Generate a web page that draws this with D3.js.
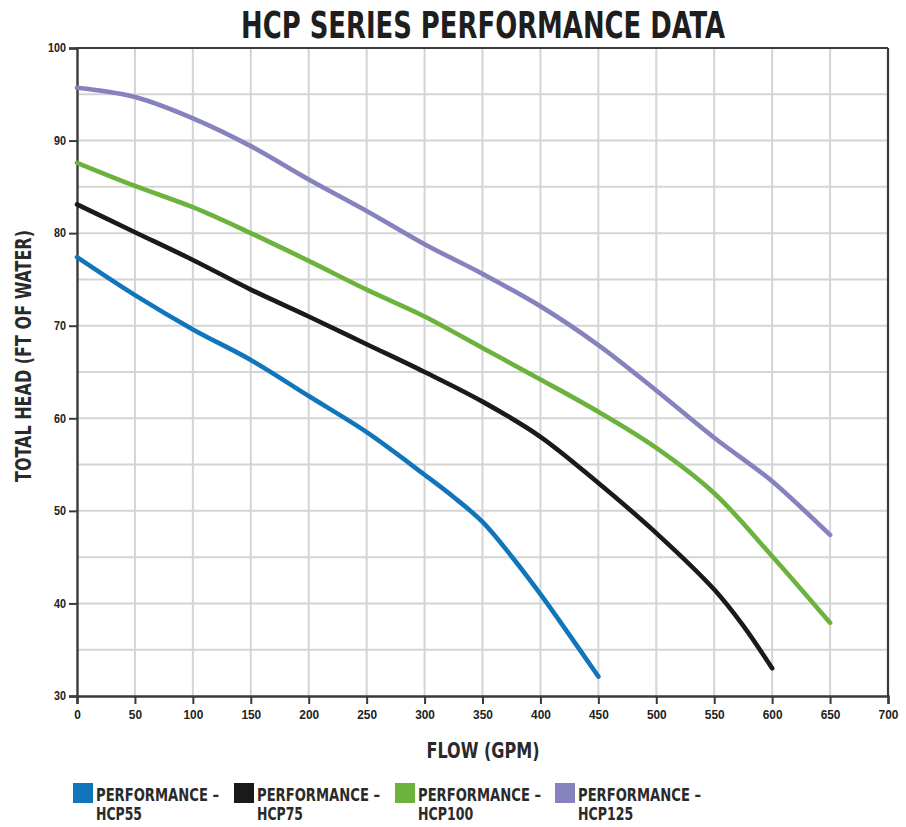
<!DOCTYPE html>
<html>
<head>
<meta charset="utf-8">
<script src="https://cdn.jsdelivr.net/npm/d3@7"></script>
<style>
  html, body { margin: 0; padding: 0; background: #fff; }
  svg { display: block; }
  text { font-family: "Liberation Sans Narrow", "Arial Narrow", "DejaVu Sans Condensed", sans-serif; }
</style>
</head>
<body>
<svg id="chart" width="906" height="827"></svg>
<script>
// ---- data ----
const seriesNames = ["HCP55", "HCP75", "HCP100", "HCP125"];
const seriesColors = ["#1175bb", "#1a1a1a", "#6cb33e", "#8582bd"];

const flowHCP55 = [0, 50, 100, 150, 200, 250, 300, 325, 350, 375, 400, 425, 450];
const headHCP55 = [77.4, 73.3, 69.6, 66.3, 62.4, 58.5, 53.9, 51.5, 48.8, 45.1, 41.0, 36.6, 32.1];

const flowHCP75 = [0, 50, 100, 150, 200, 250, 300, 350, 400, 450, 500, 550, 575, 600];
const headHCP75 = [83.1, 80.1, 77.1, 73.9, 71.0, 68.0, 65.0, 61.8, 58.0, 53.0, 47.6, 41.5, 37.6, 33.0];

const flowHCP100 = [0, 50, 100, 150, 200, 250, 300, 350, 400, 450, 500, 550, 600, 650];
const headHCP100 = [87.6, 85.1, 82.8, 80.0, 77.0, 73.9, 71.0, 67.6, 64.2, 60.7, 56.8, 51.9, 45.1, 37.9];

const flowHCP125 = [0, 50, 100, 150, 200, 250, 300, 350, 400, 450, 500, 550, 600, 650];
const headHCP125 = [95.7, 94.7, 92.4, 89.4, 85.8, 82.4, 78.8, 75.6, 72.1, 67.9, 63.0, 57.9, 53.2, 47.4];

const xTicks = [0, 50, 100, 150, 200, 250, 300, 350, 400, 450, 500, 550, 600, 650, 700];
const yTicks = [30, 40, 50, 60, 70, 80, 90, 100];
const yGrid = [35, 40, 45, 50, 55, 60, 65, 70, 75, 80, 85, 90, 95];

const titleText = "HCP SERIES PERFORMANCE DATA";
const xTitle = "FLOW (GPM)";
const yTitle = "TOTAL HEAD (FT OF WATER)";
const legendPrefix = "PERFORMANCE –";

// ---- build ----
const flows = [flowHCP55, flowHCP75, flowHCP100, flowHCP125];
const heads = [headHCP55, headHCP75, headHCP100, headHCP125];
const series = seriesNames.map((n, i) => ({
  name: n, color: seriesColors[i],
  points: flows[i].map((f, j) => ({ flow: f, head: heads[i][j] }))
}));

const svg = d3.select("#chart");
const L = 77, R = 888, T = 48, B = 696;

const x = d3.scaleLinear().domain([0, 700]).range([L, R]);
const y = d3.scaleLinear().domain([30, 100]).range([B, T]);

// gridlines
const grid = svg.append("g");
grid.selectAll("line.v").data(xTicks.slice(1, -1)).join("line")
  .attr("x1", d => x(d)).attr("x2", d => x(d))
  .attr("y1", T).attr("y2", B)
  .attr("stroke", "#d4d4d4").attr("stroke-width", 2);
grid.selectAll("line.h").data(yGrid).join("line")
  .attr("x1", L).attr("x2", R)
  .attr("y1", d => y(d)).attr("y2", d => y(d))
  .attr("stroke", "#d4d4d4").attr("stroke-width", 2);

// frame top/right
svg.append("line").attr("x1", L).attr("x2", R).attr("y1", T).attr("y2", T)
  .attr("stroke", "#3a3a3a").attr("stroke-width", 2.2);
svg.append("line").attr("x1", R).attr("x2", R).attr("y1", T).attr("y2", B)
  .attr("stroke", "#3a3a3a").attr("stroke-width", 2.2);

// axes
const xAxis = svg.append("g").attr("transform", `translate(0,${B})`)
  .call(d3.axisBottom(x).tickValues(xTicks).tickSize(8).tickPadding(6).tickFormat(d3.format("d")));
const yAxis = svg.append("g").attr("transform", `translate(${L},0)`)
  .call(d3.axisLeft(y).tickValues(yTicks).tickSize(8).tickPadding(3).tickFormat(d3.format("d")));

[xAxis, yAxis].forEach(g => {
  g.select(".domain").attr("stroke", "#3a3a3a").attr("stroke-width", 2.4);
  g.selectAll(".tick line").attr("stroke", "#3a3a3a").attr("stroke-width", 2);
  g.selectAll(".tick text")
    .attr("fill", "#222")
    .style("font-family", '"Liberation Sans Narrow", "Arial Narrow", sans-serif')
    .style("font-weight", "bold");
});
xAxis.selectAll(".tick text").style("font-size", "13px")
  .attr("textLength", d => String(d).length * 6.6).attr("lengthAdjust", "spacingAndGlyphs");
yAxis.selectAll(".tick text").style("font-size", "12px")
  .attr("textLength", d => String(d).length * 6).attr("lengthAdjust", "spacingAndGlyphs");

// curves
const line = d3.line().x(d => x(d.flow)).y(d => y(d.head)).curve(d3.curveCatmullRom.alpha(0.5));
svg.append("g").selectAll("path").data(series).join("path")
  .attr("d", d => line(d.points))
  .attr("fill", "none")
  .attr("stroke", d => d.color)
  .attr("stroke-width", 4.6)
  .attr("stroke-linecap", "round")
  .attr("stroke-linejoin", "round");

// title
svg.append("text")
  .attr("x", 483).attr("y", 38)
  .attr("text-anchor", "middle")
  .attr("textLength", 484).attr("lengthAdjust", "spacingAndGlyphs")
  .style("font-size", "38px").style("font-weight", "bold")
  .attr("fill", "#1e1e1e")
  .text(titleText);

// axis titles
svg.append("text")
  .attr("x", 483).attr("y", 758)
  .attr("text-anchor", "middle")
  .attr("textLength", 113).attr("lengthAdjust", "spacingAndGlyphs")
  .style("font-size", "22px").style("font-weight", "bold")
  .attr("fill", "#2a2a2a")
  .text(xTitle);

svg.append("text")
  .attr("transform", "translate(31,356) rotate(-90)")
  .attr("text-anchor", "middle")
  .attr("textLength", 252).attr("lengthAdjust", "spacingAndGlyphs")
  .style("font-size", "21px").style("font-weight", "bold")
  .attr("fill", "#2a2a2a")
  .text(yTitle);

// legend
const legendX = [73, 234, 395, 555];
const lg = svg.append("g").selectAll("g").data(series).join("g")
  .attr("transform", (d, i) => `translate(${legendX[i]},783)`);
lg.append("rect").attr("width", 20).attr("height", 20).attr("fill", d => d.color);
lg.append("text").attr("x", 23).attr("y", 17.5)
  .attr("textLength", 123).attr("lengthAdjust", "spacingAndGlyphs")
  .style("font-size", "18px").style("font-weight", "bold").attr("fill", "#2a2a2a")
  .text(legendPrefix);
lg.append("text").attr("x", 23).attr("y", 37)
  .attr("textLength", d => d.name.length * 9.2).attr("lengthAdjust", "spacingAndGlyphs")
  .style("font-size", "18px").style("font-weight", "bold").attr("fill", "#2a2a2a")
  .text(d => d.name);
</script>
</body>
</html>
